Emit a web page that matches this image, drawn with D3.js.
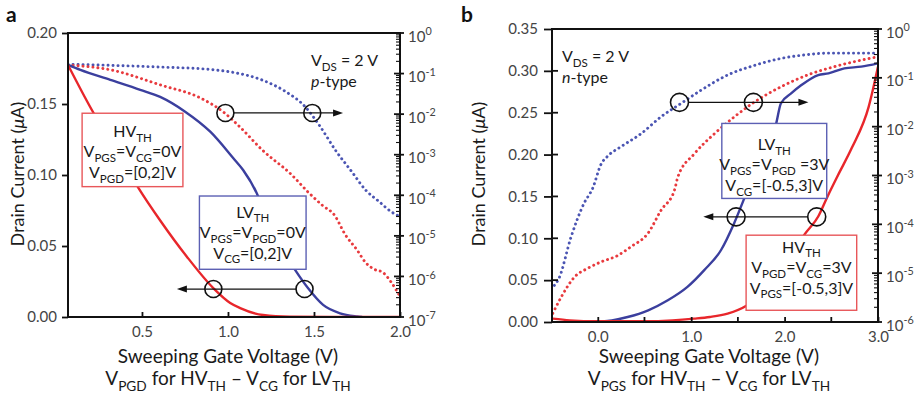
<!DOCTYPE html>
<html>
<head>
<meta charset="utf-8">
<script src="https://cdn.jsdelivr.net/npm/d3@7"></script>
<style>
  body { margin: 0; background: #fff; }
  text { font-family: Lato, "Open Sans", sans-serif; }
</style>
</head>
<body>
<div id="chart"></div>
<script>

// ---- panel a : p-type ----
const aLinTicks = [0.00, 0.05, 0.10, 0.15, 0.20];
const aXTicks = [0.5, 1.0, 1.5, 2.0];
const aLogExp = [0, -1, -2, -3, -4, -5, -6, -7];

// [gate voltage, drain current µA] linear (left axis)
const aHvLin = [[0.07,0.1775],[0.217,0.144],[0.35,0.1176],[0.48,0.0908],[0.606,0.068],[0.761,0.0425],
  [0.916,0.0202],[1.013,0.0099],[1.071,0.0063],[1.204,0.0014],[1.36,0.0002],[1.6,0],[2.0,0]];
const aLvLin = [[0.07,0.1775],[0.142,0.174],[0.316,0.167],[0.49,0.160],[0.606,0.155],[0.751,0.1446],
  [0.897,0.1305],[1.03,0.112],[1.088,0.1035],[1.168,0.087],[1.245,0.0627],[1.391,0.033],[1.466,0.0202],
  [1.553,0.0085],[1.652,0.0026],[1.75,0.0004],[1.78,0]];
// log (right axis)
const aHvLog = [[0.07,1.62e-1],[0.32,1.23e-1],[0.61,5.2e-2],[0.84,2.5e-2],[0.98,1.07e-2],[1.07,4.8e-3],
  [1.2,1.3e-3],[1.37,3.2e-4],[1.47,1.15e-4],[1.55,5.6e-5],[1.62,3.2e-5],[1.68,1.1e-5],[1.75,4.5e-6],
  [1.80,2.2e-6],[1.85,1.5e-6],[1.9,1.26e-6],[1.95,7.1e-7],[2.0,3.2e-7]];
const aLvLog = [[0.07,1.7e-1],[0.3,1.6e-1],[0.6,1.45e-1],[0.9,1.26e-1],[1.03,1.07e-1],[1.2,6.9e-2],
  [1.33,3.7e-2],[1.45,1.5e-2],[1.53,5.4e-3],[1.63,1.2e-3],[1.72,3.8e-4],[1.80,1.35e-4],[1.88,6.9e-5],
  [1.95,3.9e-5],[2.0,3.0e-5]];

// ---- panel b : n-type ----
const bLinTicks = [0.00, 0.05, 0.10, 0.15, 0.20, 0.25, 0.30, 0.35];
const bXTicks = [0.0, 1.0, 2.0, 3.0];
const bXMinor = [-0.5, 0.5, 1.5, 2.5];
const bLogExp = [0, -1, -2, -3, -4, -5, -6];

const bHvLin = [[-0.48,0.004],[-0.3,0.002],[0.0,0.001],[0.5,0.001],[0.8,0.002],[1.03,0.004],[1.2,0.006],
  [1.39,0.010],[1.6,0.020],[1.8,0.038],[2.0,0.065],[2.21,0.104],[2.36,0.126],[2.46,0.150],[2.57,0.175],
  [2.72,0.208],[2.9,0.257],[3.0,0.305]];
const bLvLin = [[-0.1,0.0],[0.15,0.002],[0.32,0.006],[0.54,0.014],[0.75,0.026],[0.96,0.042],[1.14,0.062],
  [1.32,0.086],[1.46,0.118],[1.57,0.148],[1.75,0.195],[1.91,0.237],[1.96,0.261],[2.07,0.273],[2.18,0.283],
  [2.36,0.295],[2.47,0.297],[2.64,0.303],[2.82,0.305],[3.0,0.309]];
const bHvLog = [[-0.482,1.5e-6],[-0.393,3.2e-6],[-0.25,8.3e-6],[-0.107,1.26e-5],[0.035,1.7e-5],[0.214,2.3e-5],
  [0.357,3.5e-5],[0.536,6.5e-5],[0.678,1.95e-4],[0.821,5.0e-4],[0.857,9.3e-4],[1.035,2.8e-3],[1.25,7.2e-3],
  [1.464,1.6e-2],[1.678,3.2e-2],[1.964,6.6e-2],[2.25,1.15e-1],[2.536,1.7e-1],[2.82,2.3e-1],[3.0,2.7e-1]];
const bLvLog = [[-0.465,5.6e-6],[-0.415,7.9e-6],[-0.286,5.5e-5],[-0.147,2.7e-4],[-0.054,5.5e-4],[0.035,1.7e-3],
  [0.107,2.5e-3],[0.25,3.9e-3],[0.464,7.2e-3],[0.678,1.6e-2],[0.893,3.0e-2],[1.107,5.6e-2],[1.393,1.15e-1],
  [1.678,1.8e-1],[1.964,2.5e-1],[2.214,2.95e-1],[2.465,3.2e-1],[3.0,3.2e-1]];

const RED = "#e8262b", BLUE = "#3b3f9e", RED_DOT = "#e83a3e", BLUE_DOT = "#4b55b3";

const svg = d3.select("#chart").append("svg")
  .attr("width", 924).attr("height", 397);

// text with _{sub} ^{sup} *{italic}
function rich(t, str, fs) {
  const re = /([_^*])\{([^}]*)\}|([^_^*]+)/g;
  let m, shift = 0;
  while ((m = re.exec(str)) !== null) {
    const s = t.append("tspan");
    let target = 0;
    if (m[1] === "_") { target = fs * 0.3; s.attr("font-size", fs * 0.72).text(m[2]); }
    else if (m[1] === "^") { target = -fs * 0.42; s.attr("font-size", fs * 0.72).text(m[2]); }
    else if (m[1] === "*") { s.attr("font-style", "italic").text(m[2]); }
    else s.text(m[3]);
    s.attr("dy", target - shift);
    shift = target;
  }
  return t;
}

function panel(p) {
  const g = svg.append("g");
  const x = d3.scaleLinear().domain(p.xDomain).range([p.left, p.right]);
  const y = d3.scaleLinear().domain([0, d3.max(p.linTicks)]).range([p.bottom, p.top]);
  const yl = d3.scaleLog().domain([Math.pow(10, d3.min(p.logExp)), 1]).range([p.bottom, p.top]);

  const clip = "clip" + p.name;
  g.append("clipPath").attr("id", clip).append("rect")
    .attr("x", p.left).attr("y", p.top).attr("width", p.right - p.left).attr("height", p.bottom - p.top);

  const curves = g.append("g").attr("clip-path", `url(#${clip})`);
  const lin = d3.line().x(d => x(d[0])).y(d => y(d[1])).curve(d3.curveMonotoneX);
  const lg = d3.line().x(d => x(d[0])).y(d => yl(d[1])).curve(d3.curveMonotoneX);

  [[p.lvLog, BLUE_DOT], [p.hvLog, RED_DOT]].forEach(([data, c]) => {
    curves.append("path").datum(data).attr("fill", "none").attr("stroke", c)
      .attr("stroke-width", 2.9).attr("stroke-linecap", "round")
      .attr("stroke-dasharray", "0.1,4.9").attr("d", lg);
  });
  [[p.lvLin, BLUE], [p.hvLin, RED]].forEach(([data, c]) => {
    curves.append("path").datum(data).attr("fill", "none").attr("stroke", c)
      .attr("stroke-width", 2.4).attr("d", lin);
  });

  // frame
  g.append("rect").attr("x", p.left).attr("y", p.top)
    .attr("width", p.right - p.left).attr("height", p.bottom - p.top)
    .attr("fill", "none").attr("stroke", "#111").attr("stroke-width", 2);

  // left axis
  g.append("g").attr("transform", `translate(${p.left},0)`)
    .call(d3.axisLeft(y).tickValues(p.linTicks).tickFormat(d3.format(".2f"))
      .tickSize(p.yTickOut).tickSizeOuter(0).tickPadding(p.yPad))
    .call(a => a.select(".domain").remove())
    .call(a => a.selectAll(".tick line").attr("stroke", "#111").attr("stroke-width", 1.8))
    .call(a => a.selectAll(".tick text").attr("font-size", 15).attr("fill", "#444")
      .attr("font-family", "Lato, sans-serif"));
  if (p.yTickIn) {
    g.append("g").selectAll("line").data(p.linTicks).join("line")
      .attr("x1", p.left).attr("x2", p.left + p.yTickIn)
      .attr("y1", d => y(d)).attr("y2", d => y(d)).attr("stroke", "#111").attr("stroke-width", 1.8);
  }

  // bottom axis, ticks pointing up
  g.append("g").attr("transform", `translate(0,${p.bottom})`)
    .call(d3.axisBottom(x).tickValues(p.xTicks).tickFormat(d3.format(".1f"))
      .tickSize(-5).tickSizeOuter(0).tickPadding(9))
    .call(a => a.select(".domain").remove())
    .call(a => a.selectAll(".tick line").attr("stroke", "#111").attr("stroke-width", 1.8))
    .call(a => a.selectAll(".tick text").attr("font-size", 15).attr("fill", "#444")
      .attr("font-family", "Lato, sans-serif"));
  if (p.xMinor) {
    g.append("g").selectAll("line").data(p.xMinor.filter(v => x(v) > p.left + 1)).join("line")
      .attr("x1", d => x(d)).attr("x2", d => x(d)).attr("y1", p.bottom).attr("y2", p.bottom - 5)
      .attr("stroke", "#111").attr("stroke-width", 1.8);
  }

  // right log axis
  const ra = g.append("g");
  const minors = [];
  p.logExp.slice(1).forEach(e => { for (let k = 2; k < 10; k++) minors.push(k * Math.pow(10, e)); });
  ra.selectAll("line.mn").data(minors).join("line").attr("class", "mn")
    .attr("x1", p.right - 4).attr("x2", p.right + 1)
    .attr("y1", d => yl(d)).attr("y2", d => yl(d)).attr("stroke", "#111").attr("stroke-width", 1.1);
  ra.selectAll("line.mj").data(p.logExp).join("line").attr("class", "mj")
    .attr("x1", p.right - 6).attr("x2", p.right + 4)
    .attr("y1", d => yl(Math.pow(10, d))).attr("y2", d => yl(Math.pow(10, d)))
    .attr("stroke", "#111").attr("stroke-width", 1.8);
  ra.selectAll("text").data(p.logExp).join("text")
    .attr("x", p.right + 8).attr("y", d => yl(Math.pow(10, d)) + 8.5)
    .attr("font-size", 15).attr("fill", "#444")
    .each(function (d) { rich(d3.select(this), "10^{" + (d === 0 ? "0" : "-" + (-d)) + "}", 15); });

  // arrows and circles
  p.arrows.forEach(a => {
    const yy = y(a.y), r = p.r;
    const xa = x(a.c[0]), tip = x(a.tip);
    const dir = Math.sign(tip - xa);
    g.append("line").attr("x1", xa + dir * r).attr("x2", tip - dir * 8)
      .attr("y1", yy).attr("y2", yy).attr("stroke", "#111").attr("stroke-width", 1.3);
    g.append("path").attr("fill", "#111")
      .attr("d", `M${tip},${yy}L${tip - dir * 10},${yy - 3.5}L${tip - dir * 10},${yy + 3.5}Z`);
    a.c.forEach(cv => g.append("circle").attr("cx", x(cv)).attr("cy", yy).attr("r", r)
      .attr("fill", "none").attr("stroke", "#111").attr("stroke-width", 1.6));
  });

  // legend boxes
  p.boxes.forEach(b => {
    const x0 = x(b.x[0]), x1 = x(b.x[1]), y0 = y(b.y[0]), y1 = y(b.y[1]);
    g.append("rect").attr("x", x0).attr("y", y0).attr("width", x1 - x0).attr("height", y1 - y0)
      .attr("fill", "#fff").attr("stroke", b.color).attr("stroke-width", 1.4);
    b.lines.forEach((s, i) => {
      rich(g.append("text").attr("x", (x0 + x1) / 2).attr("y", y0 + b.first + i * 20.5 + 5.5)
        .attr("text-anchor", "middle").attr("font-size", 16).attr("fill", "#1a1a1a"), s, 16);
    });
  });

  // condition note
  p.note.forEach((s, i) => {
    rich(g.append("text").attr("x", p.noteX).attr("y", p.noteY + i * 21)
      .attr("font-size", 16).attr("fill", "#1a1a1a"), s, 16);
  });

  // axis titles
  const cx = (p.left + p.right) / 2 - 6;
  rich(g.append("text").attr("x", cx).attr("y", 363).attr("text-anchor", "middle")
    .attr("font-size", 19).attr("fill", "#1a1a1a"), "Sweeping Gate Voltage (V)", 19);
  rich(g.append("text").attr("x", cx).attr("y", 385).attr("text-anchor", "middle")
    .attr("font-size", 19).attr("fill", "#1a1a1a"), p.xTitle2, 19);
  rich(g.append("text").attr("transform", `translate(${p.yTitleX},174) rotate(-90)`)
    .attr("text-anchor", "middle").attr("font-size", 18).attr("fill", "#1a1a1a"),
    "Drain Current (*{μ}A)", 18);

  g.append("text").attr("x", p.labelX).attr("y", 22).attr("font-size", 21)
    .attr("font-weight", "bold").attr("font-family", "Arial, 'Liberation Sans', sans-serif")
    .attr("fill", "#111").text(p.name);
}

panel({
  name: "a", left: 68, right: 400, top: 33, bottom: 317, xDomain: [0.07, 2.0],
  linTicks: aLinTicks, xTicks: aXTicks, logExp: aLogExp, yTickOut: 6, yPad: 5,
  hvLin: aHvLin, lvLin: aLvLin, hvLog: aHvLog, lvLog: aLvLog, r: 8.5,
  arrows: [{ y: 0.1437, c: [0.985, 1.49], tip: 1.669 }, { y: 0.0197, c: [1.445, 0.915], tip: 0.703 }],
  boxes: [
    { x: [0.152, 0.738], y: [0.1435, 0.0918], color: "#e8575a", first: 18,
      lines: ["HV_{TH}", "V_{PGS}=V_{CG}=0V", "V_{PGD}=[0,2]V"] },
    { x: [0.834, 1.454], y: [0.0852, 0.0336], color: "#5c60b4", first: 16,
      lines: ["LV_{TH}", "V_{PGS}=V_{PGD}=0V", "V_{CG}=[0,2]V"] }
  ],
  note: ["V_{DS} = 2 V", "*{p}-type"], noteX: 311, noteY: 66,
  xTitle2: "V_{PGD} for HV_{TH} – V_{CG} for LV_{TH}", yTitleX: 24, labelX: 6
});

panel({
  name: "b", left: 552, right: 878, top: 29, bottom: 322, xDomain: [-0.49, 3.0],
  linTicks: bLinTicks, xTicks: bXTicks, xMinor: bXMinor, logExp: bLogExp, yTickOut: 8, yTickIn: 6, yPad: 6,
  hvLin: bHvLin, lvLin: bLvLin, hvLog: bHvLog, lvLog: bLvLog, r: 9,
  arrows: [{ y: 0.2624, c: [0.875, 1.666], tip: 2.255 }, { y: 0.1256, c: [2.344, 1.481], tip: 1.13 }],
  boxes: [
    { x: [1.328, 2.451], y: [0.2372, 0.1476], color: "#5c60b4", first: 21,
      lines: ["LV_{TH}", "V_{PGS}=V_{PGD} =3V", "V_{CG}=[-0.5,3]V"] },
    { x: [1.588, 2.772], y: [0.1037, 0.0140], color: "#e8575a", first: 12,
      lines: ["HV_{TH}", "V_{PGD}=V_{CG}=3V", "V_{PGS}=[-0.5,3]V"] }
  ],
  note: ["V_{DS} = 2 V", "*{n}-type"], noteX: 562, noteY: 62,
  xTitle2: "V_{PGS} for HV_{TH} – V_{CG} for LV_{TH}", yTitleX: 485, labelX: 461
});

</script>
</body>
</html>
